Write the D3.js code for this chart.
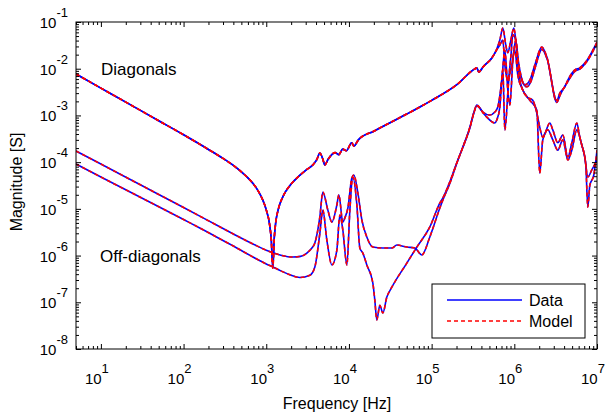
<!DOCTYPE html>
<html><head><meta charset="utf-8">
<script src="https://cdn.jsdelivr.net/npm/d3@7"></script>
<style>body{margin:0;background:#fff}svg{display:block}text{font-family:Arial,"Liberation Sans",sans-serif;fill:#000}</style>
</head><body><svg id="c" width="608" height="419"></svg>
<script>
// ---- data (frequency in Hz, magnitude in S) ----
const diagLowF = [5,10,20,50,100,200,300,400,500,600,700,800,900,1000,1100,1150,1200,1250,1300,1400,1600,2000,2500,3000,3700,4100,4448,4800,5112,5600,6800,7550,8400,9300,10800,11500,13000,20000,50000,72000,100000,200000,333000,352000,372000,420000,535000,600000];
const diagLowM = [7.7e-3,3.85e-3,1.93e-3,7.7e-4,3.85e-4,1.87e-4,1.2e-4,8.5e-5,6.2e-5,4.6e-5,3.4e-5,2.4e-5,1.6e-5,9.5e-6,4.5e-6,2.2e-6,5.4e-7,2.4e-6,5.0e-6,9.9e-6,1.87e-5,3.4e-5,5.1e-5,6.7e-5,8.9e-5,1.15e-4,1.57e-4,1.2e-4,8.7e-5,1.15e-4,1.6e-4,1.45e-4,1.9e-4,1.75e-4,2.6e-4,2.2e-4,3.0e-4,4.6e-4,1.07e-3,1.51e-3,2.1e-3,4.5e-3,9.9e-3,1.04e-2,8.5e-3,1.1e-2,1.7e-2,2.4e-2];
const diag1HighF = [668000,726000,789000,834000,908000,987000,1072000,1165000,1340000,1540000,1770000,2150000,2470000,3260000,3550000,4080000,4440000,5390000,6190000,7530000,10000000];
const diag1HighM = [4.1e-2,7.4e-2,3.2e-2,2.2e-2,4.1e-2,7.4e-2,2.5e-2,9.4e-3,4.5e-3,5.7e-3,1.2e-2,2.9e-2,1.8e-2,2.1e-3,3.0e-3,4.1e-3,5.7e-3,9.4e-3,1.04e-2,1.5e-2,3.7e-2];
const diag2HighF = [668000,726000,768000,834000,908000,960000,1043000,1102000,1232000,1416000,1600000,1800000,2150000,2500000,3260000,3600000,4400000,5400000,6200000,7500000,10000000];
const diag2HighM = [3.2e-2,4.1e-2,1.2e-2,5.7e-3,1.8e-2,5.3e-2,4.1e-2,1.2e-2,5.7e-3,4.1e-3,5.5e-3,1.1e-2,2.6e-2,1.6e-2,1.9e-3,2.8e-3,5.2e-3,8.8e-3,9.8e-3,1.4e-2,3.5e-2];
const off1F = [5,10,30,100,157,250,400,700,1000,1500,2097,2600,3097,3500,3870,4448,4834,5558,6213,7141,7550,8437,8922,9705,10840,11460,12820,14320,16450,19440,25700,33000,37940,50120,62660,76200,95100,125600,136500,166000,202000,239000,290000,324000,352000,416000,506000,581000,631000,706000,768000,834000,883000,960000,1043000,1165000,1416000,1673000,1920000,2030000,2210000,2690000,2920000,3360000,3860000,4440000,4960000,5700000,6190000,7120000,7740000,8650000,10000000];
const off1M = [1.73e-4,9.1e-5,3.27e-5,1.07e-5,7.0e-6,4.5e-6,2.9e-6,1.75e-6,1.3e-6,1.02e-6,9.3e-7,9.6e-7,1.13e-6,1.4e-6,1.85e-6,6.7e-6,2.3e-5,9.4e-6,5.2e-6,1.21e-5,2.0e-5,5.2e-6,6.4e-6,1.04e-5,4.6e-5,5.3e-5,2.2e-5,5.8e-6,2.5e-6,1.52e-6,1.45e-6,1.45e-6,1.68e-6,1.52e-6,1.45e-6,1.03e-6,2.5e-6,1.04e-5,1.54e-5,3.5e-5,9.6e-5,2.1e-4,5.6e-4,1.15e-3,1.67e-3,1.18e-3,1.02e-3,1.18e-3,1.51e-3,5.7e-3,2.5e-2,3.5e-3,1.67e-3,1.5e-2,4.1e-2,5.7e-3,2.5e-3,2.1e-3,9.2e-4,5.6e-4,3.4e-4,6.9e-4,4.9e-4,2.6e-4,3.8e-4,1.29e-4,2.6e-4,6.9e-4,3.4e-4,1.29e-4,4.8e-5,6.8e-5,1.11e-4];
const off2F = [5,10,30,100,157,250,400,700,1000,1202,1500,1926,2548,3368,3870,4448,4834,5405,6213,7141,7763,8437,9440,10260,11150,12470,13550,14720,16450,19440,20550,21720,23640,25700,28730,33020,50120,66240,95100,125600,136500,166000,202000,239000,290000,324000,352000,440000,581000,614000,668000,726000,768000,858000,933000,1014000,1102000,1267000,1540000,1870000,2030000,2210000,2540000,2920000,3360000,3860000,4440000,4960000,5700000,6550000,7320000,7740000,8190000,9150000,10000000];
const off2M = [9.1e-5,4.8e-5,1.77e-5,5.9e-6,3.9e-6,2.5e-6,1.6e-6,9.2e-7,6.6e-7,5.7e-7,4.7e-7,3.9e-7,3.4e-7,3.8e-7,5.7e-7,3.0e-6,9.4e-6,2.15e-6,6.3e-7,1.31e-6,7.4e-6,3.5e-6,6.3e-7,9.4e-6,4.8e-5,1.21e-5,1.45e-6,1.13e-6,6.3e-7,2.6e-7,1.11e-7,4.2e-8,8.6e-8,5.9e-8,1.29e-7,2.1e-7,6.9e-7,1.52e-6,4.1e-6,1.33e-5,1.7e-5,3.8e-5,9.8e-5,2.1e-4,5.4e-4,1.12e-3,1.6e-3,1.02e-3,6.9e-4,8.0e-4,1.51e-3,9.4e-3,4.9e-4,5.7e-3,1.2e-2,2.5e-2,7.3e-3,3.5e-3,2.1e-3,1.31e-3,5.8e-5,3.0e-4,4.9e-4,3.0e-4,1.8e-4,3.0e-4,1.11e-4,1.8e-4,4.9e-4,2.3e-4,8.7e-5,1.09e-5,3.2e-5,5.3e-5,1.8e-4];
const xTickExps = [1,2,3,4,5,6,7];
const yTickExps = [-8,-7,-6,-5,-4,-3,-2,-1];
const legendLabels = ["Data","Model"];

// ---- layout ----
const svg = d3.select("#c");
const L = 76, R = 597, T = 22, B = 349;
const x = d3.scaleLog().domain([5,1e7]).range([L,R]);
const y = d3.scaleLog().domain([1e-8,1e-1]).range([B,T]);

const zip = (f,m) => f.map((v,i)=>[v,m[i]]);
const curves = [
  zip(diagLowF.concat(diag1HighF), diagLowM.concat(diag1HighM)),
  zip(diagLowF.concat(diag2HighF), diagLowM.concat(diag2HighM)),
  zip(off1F, off1M),
  zip(off2F, off2M)
];
const line = d3.line().x(d=>x(d[0])).y(d=>y(d[1])).curve(d3.curveMonotoneX);

svg.append("defs").append("clipPath").attr("id","clip")
  .append("rect").attr("x",L).attr("y",T).attr("width",R-L).attr("height",B-T);
const g = svg.append("g").attr("clip-path","url(#clip)");
curves.forEach(c=>{
  g.append("path").attr("d",line(c)).attr("fill","none").attr("stroke","#0000ff").attr("stroke-width",1.6);
});
curves.forEach(c=>{
  g.append("path").attr("d",line(c)).attr("fill","none").attr("stroke","#ff0000").attr("stroke-width",1.6).attr("stroke-dasharray","4,3");
});

// ---- axes ----
const majX = xTickExps.map(e=>Math.pow(10,e));
const minX = [];
for (let e=0;e<7;e++) for (let k=2;k<=9;k++){const v=k*Math.pow(10,e); if(v>=5&&v<=1e7) minX.push(v);}
const majY = yTickExps.map(e=>Math.pow(10,e));
const minY = [];
for (let e=-8;e<-1;e++) for (let k=2;k<=9;k++) minY.push(k*Math.pow(10,e));

function ax(axisFn, scale, vals, size, tx, ty){
  const a = svg.append("g").attr("transform",`translate(${tx},${ty})`)
    .call(axisFn(scale).tickValues(vals).tickSizeInner(-size).tickSizeOuter(0).tickFormat(""));
  a.select(".domain").remove();
  a.selectAll("line").attr("stroke","#000").attr("stroke-width",1);
}
ax(d3.axisBottom,x,majX,5,0,B); ax(d3.axisBottom,x,minX,3,0,B);
ax(d3.axisTop,x,majX,5,0,T); ax(d3.axisTop,x,minX,3,0,T);
ax(d3.axisLeft,y,majY,5,L,0); ax(d3.axisLeft,y,minY,3,L,0);
ax(d3.axisRight,y,majY,5,R,0); ax(d3.axisRight,y,minY,3,R,0);

svg.append("rect").attr("x",L).attr("y",T).attr("width",R-L).attr("height",B-T)
  .attr("fill","none").attr("stroke","#000").attr("stroke-width",1);

// tick labels
xTickExps.forEach(e=>{
  const t = svg.append("text").attr("x",x(Math.pow(10,e))-4).attr("y",384).attr("text-anchor","middle").style("font-size","15px");
  t.append("tspan").text("10");
  t.append("tspan").attr("dy",-11).style("font-size","13px").text(e);
});
yTickExps.forEach(e=>{
  const t = svg.append("text").attr("x",68).attr("y",y(Math.pow(10,e))+6).attr("text-anchor","end").style("font-size","15px");
  t.append("tspan").text("10");
  t.append("tspan").attr("dy",-11).style("font-size","13px").text("-"+Math.abs(e));
});

// axis titles
svg.append("text").attr("x",337).attr("y",409).attr("text-anchor","middle").style("font-size","16px").text("Frequency [Hz]");
svg.append("text").attr("transform","translate(22,182) rotate(-90)").attr("text-anchor","middle").style("font-size","16px").text("Magnitude [S]");
svg.append("text").attr("x",101).attr("y",75).style("font-size","17px").text("Diagonals");
svg.append("text").attr("x",100).attr("y",262).style("font-size","17px").text("Off-diagonals");

// legend
const lg = svg.append("g");
lg.append("rect").attr("x",432).attr("y",284).attr("width",153).attr("height",54).attr("fill","#fff").attr("stroke","#000").attr("stroke-width",1);
lg.append("line").attr("x1",447).attr("x2",522).attr("y1",300).attr("y2",300).attr("stroke","#0000ff").attr("stroke-width",1.6);
lg.append("line").attr("x1",447).attr("x2",522).attr("y1",321).attr("y2",321).attr("stroke","#ff0000").attr("stroke-width",1.6).attr("stroke-dasharray","4,3");
lg.append("text").attr("x",529).attr("y",306).style("font-size","16px").text(legendLabels[0]);
lg.append("text").attr("x",529).attr("y",327).style("font-size","16px").text(legendLabels[1]);
</script></body></html>
